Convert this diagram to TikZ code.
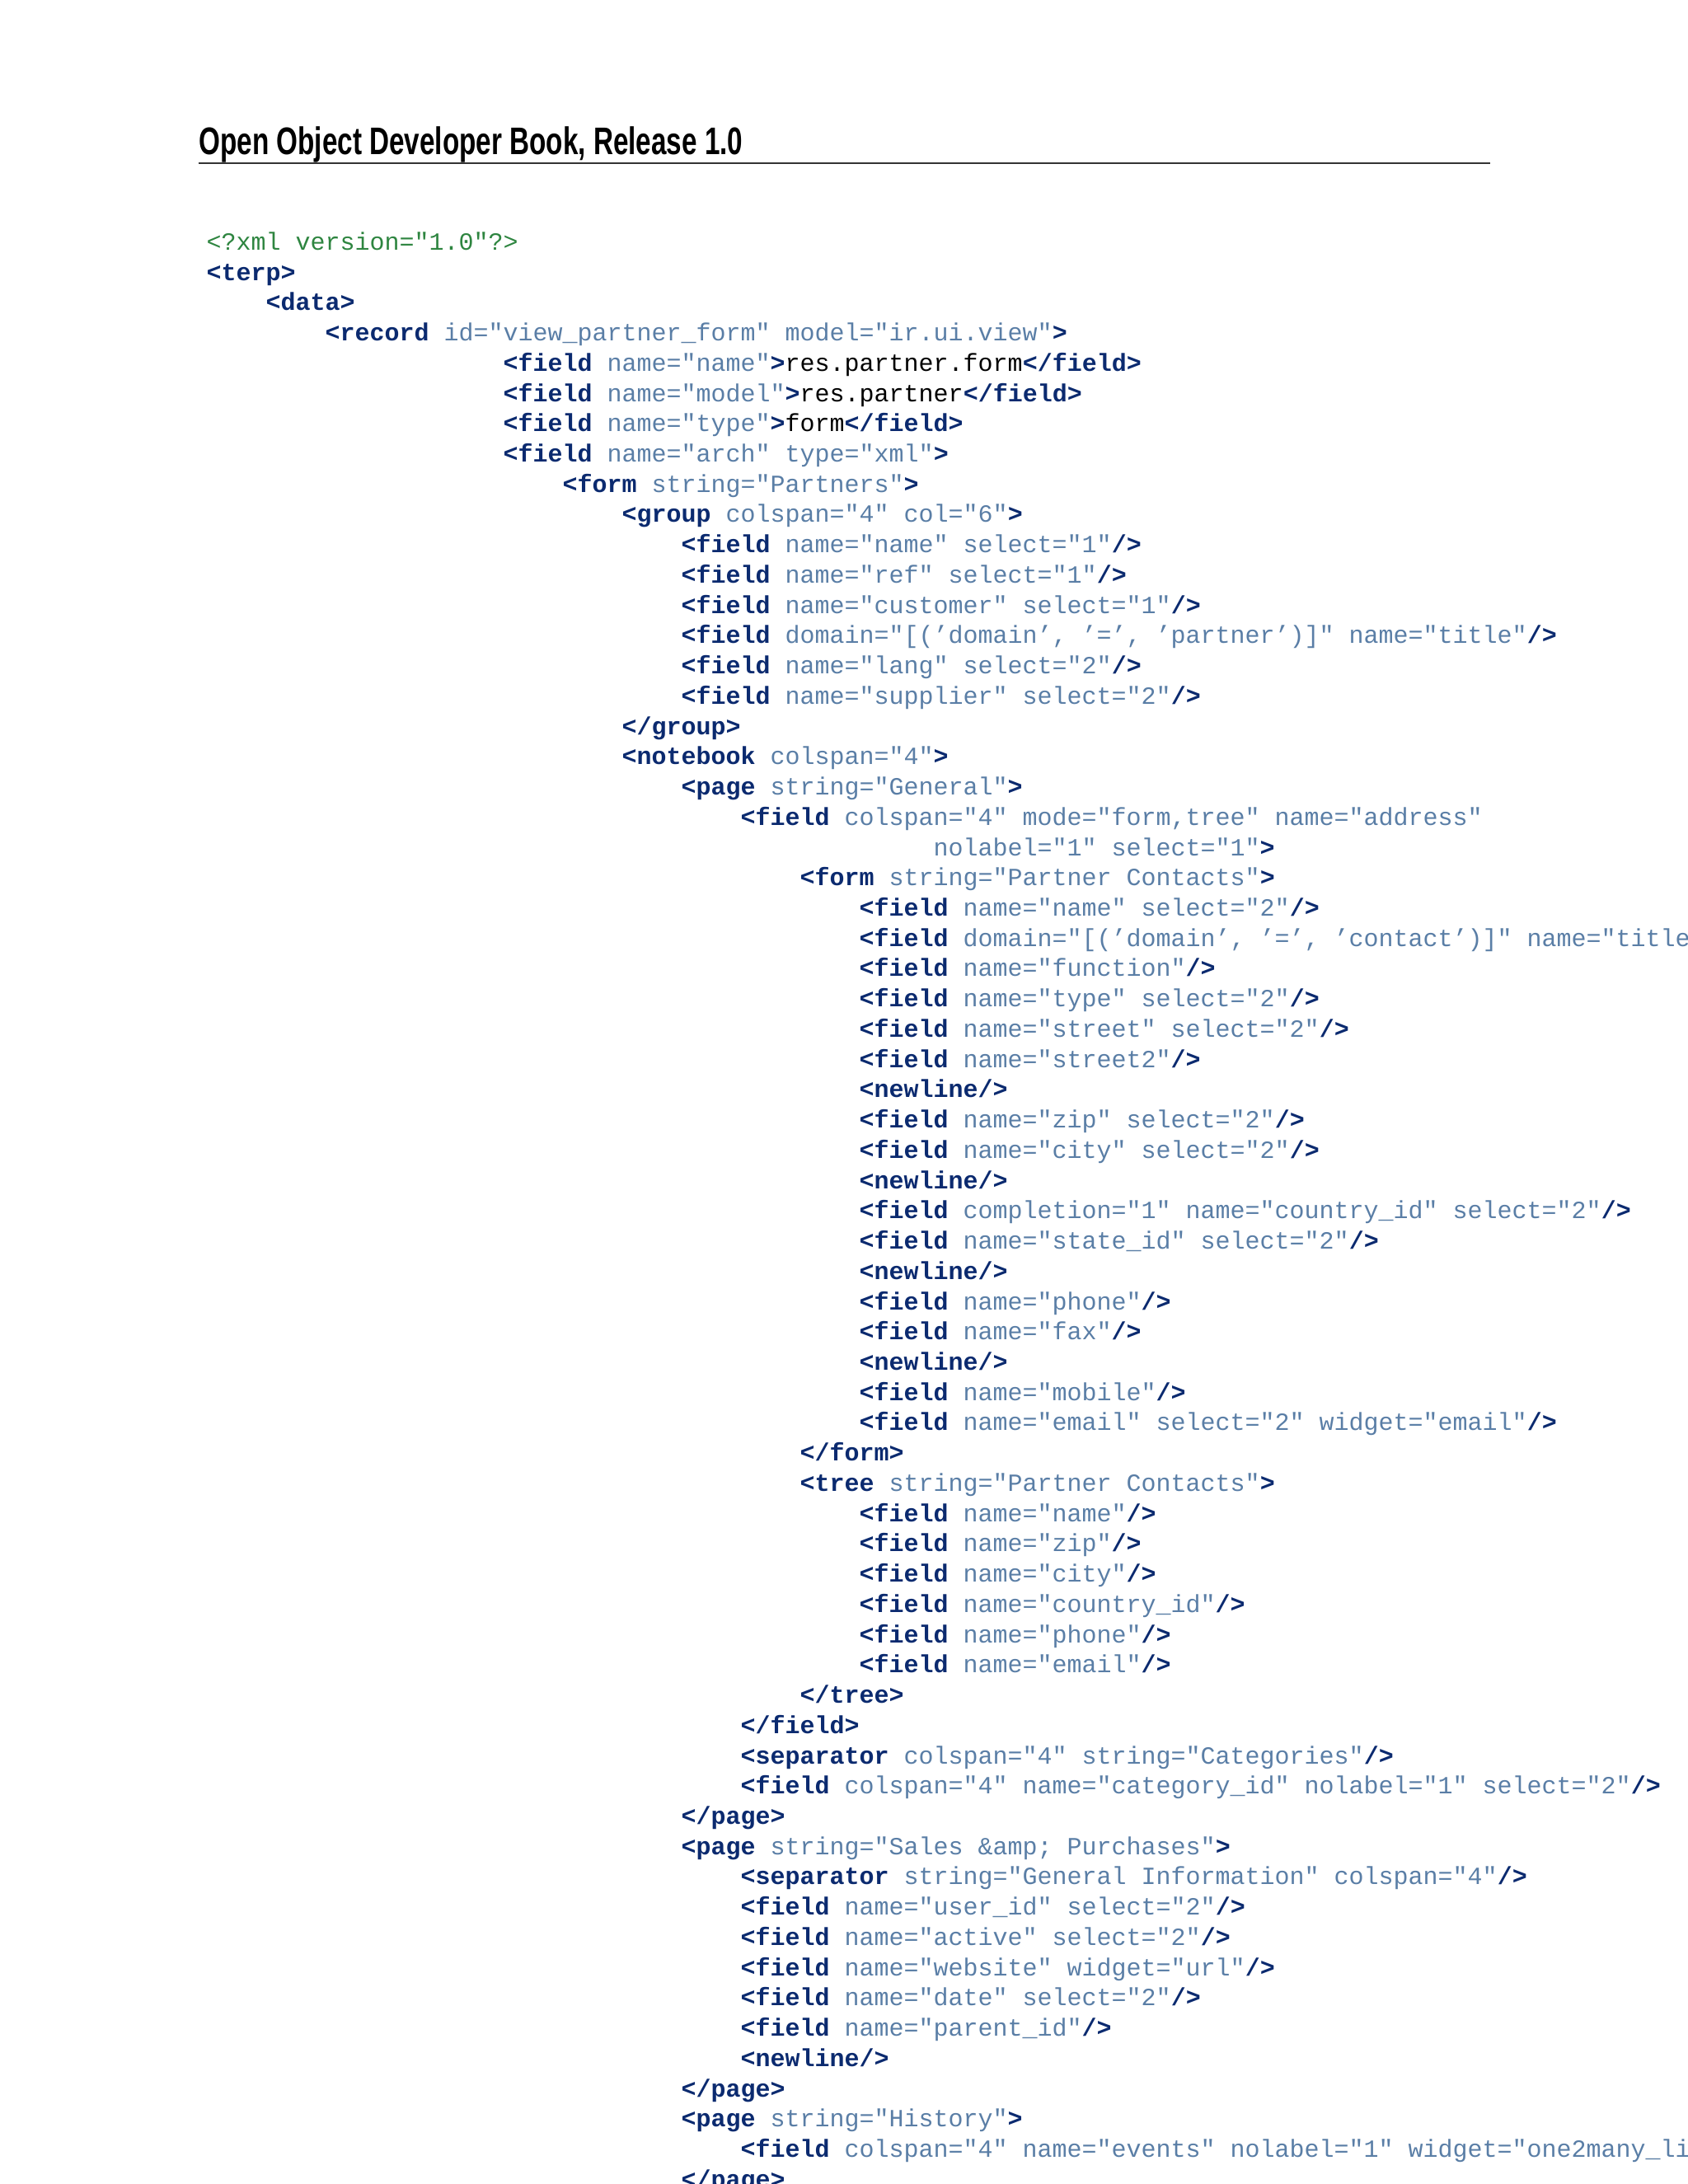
\documentclass[tikz,border=0pt]{standalone}
\usepackage{fontspec}
\usepackage{graphicx}
\newfontfamily\codef{Liberation Mono}
\newfontfamily\headf{Liberation Sans}
\definecolor{tagc}{HTML}{0B2A6F}
\definecolor{attc}{HTML}{5A7EA6}
\definecolor{declc}{HTML}{2E8540}
\definecolor{rulec}{HTML}{333333}
\newcommand{\tg}[1]{\textcolor{tagc}{\bfseries #1}}
\newcommand{\at}[1]{\textcolor{attc}{#1}}
\tikzset{codeline/.style={anchor=base west,inner sep=0pt,font=\codef\fontsize{9.0pt}{10pt}\selectfont}}
\newcommand{\cl}[3]{\node[codeline] (L#1) at ({75.0pt+#2*5.40pt},{-91.0pt-#1*11.02pt}) {#3};}
\begin{document}
\begin{tikzpicture}[x=1pt,y=1pt]
\useasboundingbox (0,0) rectangle (614.4,-795);
\node[anchor=base west,inner sep=0pt] (title) at (72.2,-56.3) {\resizebox{198pt}{\height}{\headf\bfseries\fontsize{14pt}{16pt}\selectfont Open Object Developer Book, Release 1.0}};
\coordinate (r1) at (72.2,-59.4);
\coordinate (r2) at (542.5,-59.4);
\draw[rulec,line width=0.45pt] (r1) -- (r2);
\cl{0}{0}{\textcolor{declc}{<?xml version="1.0"?>}}
\cl{1}{0}{\tg{<terp>}}
\cl{2}{4}{\tg{<data>}}
\cl{3}{8}{\tg{<record} \at{id="view\_partner\_form" model="ir.ui.view"}\tg{>}}
\cl{4}{20}{\tg{<field} \at{name="name"}\tg{>}res.partner.form\tg{</field>}}
\cl{5}{20}{\tg{<field} \at{name="model"}\tg{>}res.partner\tg{</field>}}
\cl{6}{20}{\tg{<field} \at{name="type"}\tg{>}form\tg{</field>}}
\cl{7}{20}{\tg{<field} \at{name="arch" type="xml"}\tg{>}}
\cl{8}{24}{\tg{<form} \at{string="Partners"}\tg{>}}
\cl{9}{28}{\tg{<group} \at{colspan="4" col="6"}\tg{>}}
\cl{10}{32}{\tg{<field} \at{name="name" select="1"}\tg{/>}}
\cl{11}{32}{\tg{<field} \at{name="ref" select="1"}\tg{/>}}
\cl{12}{32}{\tg{<field} \at{name="customer" select="1"}\tg{/>}}
\cl{13}{32}{\tg{<field} \at{domain="[(’domain’, ’=’, ’partner’)]" name="title"}\tg{/>}}
\cl{14}{32}{\tg{<field} \at{name="lang" select="2"}\tg{/>}}
\cl{15}{32}{\tg{<field} \at{name="supplier" select="2"}\tg{/>}}
\cl{16}{28}{\tg{</group>}}
\cl{17}{28}{\tg{<notebook} \at{colspan="4"}\tg{>}}
\cl{18}{32}{\tg{<page} \at{string="General"}\tg{>}}
\cl{19}{36}{\tg{<field} \at{colspan="4" mode="form,tree" name="address"}}
\cl{20}{49}{\at{nolabel="1" select="1"}\tg{>}}
\cl{21}{40}{\tg{<form} \at{string="Partner Contacts"}\tg{>}}
\cl{22}{44}{\tg{<field} \at{name="name" select="2"}\tg{/>}}
\cl{23}{44}{\tg{<field} \at{domain="[(’domain’, ’=’, ’contact’)]" name="title"}\tg{/>}}
\cl{24}{44}{\tg{<field} \at{name="function"}\tg{/>}}
\cl{25}{44}{\tg{<field} \at{name="type" select="2"}\tg{/>}}
\cl{26}{44}{\tg{<field} \at{name="street" select="2"}\tg{/>}}
\cl{27}{44}{\tg{<field} \at{name="street2"}\tg{/>}}
\cl{28}{44}{\tg{<newline/>}}
\cl{29}{44}{\tg{<field} \at{name="zip" select="2"}\tg{/>}}
\cl{30}{44}{\tg{<field} \at{name="city" select="2"}\tg{/>}}
\cl{31}{44}{\tg{<newline/>}}
\cl{32}{44}{\tg{<field} \at{completion="1" name="country\_id" select="2"}\tg{/>}}
\cl{33}{44}{\tg{<field} \at{name="state\_id" select="2"}\tg{/>}}
\cl{34}{44}{\tg{<newline/>}}
\cl{35}{44}{\tg{<field} \at{name="phone"}\tg{/>}}
\cl{36}{44}{\tg{<field} \at{name="fax"}\tg{/>}}
\cl{37}{44}{\tg{<newline/>}}
\cl{38}{44}{\tg{<field} \at{name="mobile"}\tg{/>}}
\cl{39}{44}{\tg{<field} \at{name="email" select="2" widget="email"}\tg{/>}}
\cl{40}{40}{\tg{</form>}}
\cl{41}{40}{\tg{<tree} \at{string="Partner Contacts"}\tg{>}}
\cl{42}{44}{\tg{<field} \at{name="name"}\tg{/>}}
\cl{43}{44}{\tg{<field} \at{name="zip"}\tg{/>}}
\cl{44}{44}{\tg{<field} \at{name="city"}\tg{/>}}
\cl{45}{44}{\tg{<field} \at{name="country\_id"}\tg{/>}}
\cl{46}{44}{\tg{<field} \at{name="phone"}\tg{/>}}
\cl{47}{44}{\tg{<field} \at{name="email"}\tg{/>}}
\cl{48}{40}{\tg{</tree>}}
\cl{49}{36}{\tg{</field>}}
\cl{50}{36}{\tg{<separator} \at{colspan="4" string="Categories"}\tg{/>}}
\cl{51}{36}{\tg{<field} \at{colspan="4" name="category\_id" nolabel="1" select="2"}\tg{/>}}
\cl{52}{32}{\tg{</page>}}
\cl{53}{32}{\tg{<page} \at{string="Sales \&amp; Purchases"}\tg{>}}
\cl{54}{36}{\tg{<separator} \at{string="General Information" colspan="4"}\tg{/>}}
\cl{55}{36}{\tg{<field} \at{name="user\_id" select="2"}\tg{/>}}
\cl{56}{36}{\tg{<field} \at{name="active" select="2"}\tg{/>}}
\cl{57}{36}{\tg{<field} \at{name="website" widget="url"}\tg{/>}}
\cl{58}{36}{\tg{<field} \at{name="date" select="2"}\tg{/>}}
\cl{59}{36}{\tg{<field} \at{name="parent\_id"}\tg{/>}}
\cl{60}{36}{\tg{<newline/>}}
\cl{61}{32}{\tg{</page>}}
\cl{62}{32}{\tg{<page} \at{string="History"}\tg{>}}
\cl{63}{36}{\tg{<field} \at{colspan="4" name="events" nolabel="1" widget="one2many\_list"}\tg{/>}}
\cl{64}{32}{\tg{</page>}}
\end{tikzpicture}
\end{document}
